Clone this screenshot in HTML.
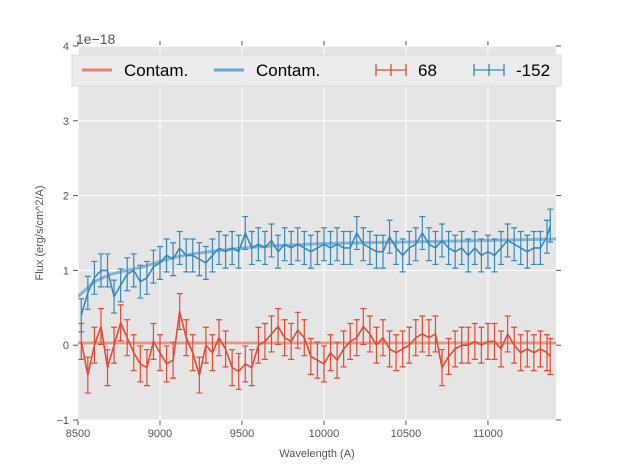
<!DOCTYPE html>
<html><head><meta charset="utf-8"><style>
body{margin:0;background:#fff;font-family:"Liberation Sans",sans-serif}
svg text{font-family:"Liberation Sans",sans-serif}
</style></head><body>
<svg id="c" width="617" height="467"></svg>
<script>
const wave=[8520,8560,8600,8640,8680,8720,8760,8800,8840,8880,8920,8960,9000,9040,9080,9120,9160,9200,9240,9280,9320,9360,9400,9440,9480,9520,9560,9600,9640,9680,9720,9760,9800,9840,9880,9920,9960,10000,10040,10080,10120,10160,10200,10240,10280,10320,10360,10400,10440,10480,10520,10560,10600,10640,10680,10720,10760,10800,10840,10880,10920,10960,11000,11040,11080,11120,11160,11200,11240,11280,11320,11360,11380];
const red=[0.05,-0.4,0.0,0.25,-0.3,0.0,0.3,0.1,-0.1,-0.25,-0.3,0.05,-0.1,-0.25,-0.2,0.45,0.1,-0.1,-0.4,0.0,-0.1,0.1,-0.05,-0.3,-0.35,-0.25,-0.3,0.0,0.05,0.15,0.25,0.1,0.05,0.2,0.1,-0.15,-0.2,-0.25,-0.1,-0.2,-0.05,0.05,0.1,0.25,0.15,0.0,0.1,-0.05,-0.1,-0.05,0.0,0.1,0.15,0.1,0.15,-0.3,-0.15,-0.05,0.0,0.0,0.05,0.0,0.05,0.05,-0.05,0.15,0.0,-0.1,-0.05,-0.1,-0.05,-0.1,-0.15];
const blue=[0.4,0.7,0.9,1.0,1.0,0.65,0.8,0.95,1.0,0.85,0.9,1.05,1.1,1.2,1.15,1.3,1.2,1.2,1.15,1.1,1.2,1.3,1.25,1.3,1.25,1.5,1.3,1.35,1.3,1.4,1.25,1.35,1.3,1.35,1.3,1.25,1.3,1.35,1.3,1.35,1.3,1.3,1.5,1.35,1.3,1.25,1.25,1.45,1.3,1.2,1.3,1.35,1.5,1.35,1.3,1.4,1.3,1.25,1.3,1.2,1.3,1.2,1.25,1.2,1.3,1.4,1.35,1.3,1.25,1.3,1.3,1.45,1.6];
const redErr=0.24, blueErr=0.22;
const contWave=[8500,8600,8700,8800,8900,9000,9100,9200,9300,9500,9700,10000,10500,11000,11420];
const contRed=[0.03,0.03,0.03,0.03,0.03,0.03,0.03,0.03,0.03,0.03,0.03,0.03,0.03,0.03,0.03];
const contBlue=[0.65,0.85,0.95,1.0,1.05,1.12,1.18,1.22,1.25,1.3,1.33,1.36,1.38,1.4,1.42];
const xTicks=[8500,9000,9500,10000,10500,11000];
const yTicks=[-1,0,1,2,3,4];

const L=78,R=556,T=46,B=420,X0=8500,X1=11415,Y0=-1,Y1=4;
const sx=v=>L+(v-X0)/(X1-X0)*(R-L);
const sy=v=>B-(v-Y0)/(Y1-Y0)*(B-T);
const svg=document.getElementById('c');
const NS='http://www.w3.org/2000/svg';
function mk(t,a,p){const e=document.createElementNS(NS,t);for(const k in a)e.setAttribute(k,a[k]);(p||svg).appendChild(e);return e;}
let e;
e=mk('rect',{x:L,y:T,width:R-L,height:B-T,fill:'#e5e5e5'});


const clip=mk('clipPath',{id:'cp'});mk('rect',{x:L,y:T,width:R-L,height:B-T},clip);
xTicks.forEach(v=>{
 e=mk('line',{x1:sx(v),x2:sx(v),y1:T,y2:B,stroke:'#fff','stroke-width':1});
 
 
 mk('line',{x1:sx(v),x2:sx(v),y1:B,y2:B+5,stroke:'#555'});
 mk('line',{x1:sx(v),x2:sx(v),y1:T,y2:T-5,stroke:'#555'});
 e=mk('text',{x:sx(v),y:B+17,'text-anchor':'middle','font-size':11,fill:'#555'});e.textContent=v;
 
 
});
yTicks.forEach(v=>{
 e=mk('line',{x1:L,x2:R,y1:sy(v),y2:sy(v),stroke:'#fff','stroke-width':1});
 
 
 mk('line',{x1:L-5,x2:L,y1:sy(v),y2:sy(v),stroke:'#555'});
 mk('line',{x1:R,x2:R+5,y1:sy(v),y2:sy(v),stroke:'#555'});
 e=mk('text',{x:L-9,y:sy(v)+4,'text-anchor':'end','font-size':11,fill:'#555'});e.textContent=String(v).replace('-','\u2212');
 
 
});
const g=mk('g',{'clip-path':'url(#cp)'});
function line(xs,ys,col,w,op,name){
 e=mk('polyline',{points:xs.map((x,i)=>sx(x)+','+sy(ys[i])).join(' '),fill:'none',stroke:col,'stroke-width':w,opacity:op},g);
 
 
}
line(contWave,contRed,'#e8826b',3,0.8,'contam-line-red');
line(contWave,contBlue,'#6aa8d4',3,0.8,'contam-line-blue');
function errSeries(ys,err,col,name){
 ys.forEach((v,i)=>{const x=sx(wave[i]);
  e=mk('path',{d:`M${x},${sy(v-err)}V${sy(v+err)}M${x-3},${sy(v-err)}H${x+3}M${x-3},${sy(v+err)}H${x+3}`,stroke:col,'stroke-width':1.2,fill:'none'},g);
  
  
 });
 line(wave,ys,col,1.6,1,name+'-line');
}
errSeries(red,redErr,'#e24a33','series-68');
errSeries(blue,blueErr,'#348abd','series-152');
e=mk('text',{x:76,y:44,'font-size':14,fill:'#555'});e.textContent='1e\u221218';


e=mk('text',{x:(L+R)/2,y:457,'text-anchor':'middle','font-size':11,fill:'#555'});e.textContent='Wavelength (A)';


e=mk('text',{x:43,y:233,'text-anchor':'middle','font-size':11,fill:'#555',transform:'rotate(-90 43 233)'});e.textContent='Flux (erg/s/cm^2/A)';


const lg=mk('g',{});


mk('rect',{x:72,y:55,width:489,height:31,fill:'#ececec',stroke:'#ddd'},lg);
const items=[[82,'Contam.','#e8826b',0],[214,'Contam.','#6aa8d4',0],[376,'68','#e24a33',1],[474,'-152','#348abd',1]];
items.forEach(([x,t,c,eb])=>{
 const it=mk('g',{},lg);
 
 
 if(eb){mk('path',{d:`M${x},70H${x+30}M${x},64V76M${x+30},64V76M${x+15},64V76`,stroke:c,'stroke-width':1.3,fill:'none'},it);}
 else mk('line',{x1:x,x2:x+30,y1:70,y2:70,stroke:c,'stroke-width':3},it);
 const tx=mk('text',{x:x+42,y:76,'font-size':17,fill:'#000'},it);tx.textContent=t;
});
</script>
</body></html>
